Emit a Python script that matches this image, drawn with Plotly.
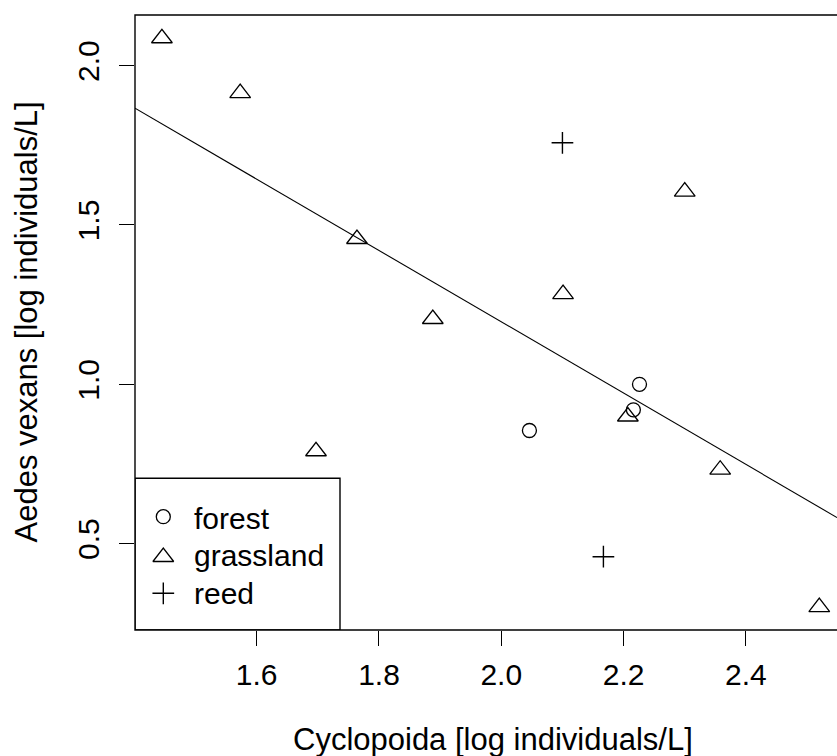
import numpy as np
import plotly.graph_objects as go

# Habitat groups: Cyclopoida (x) vs Aedes vexans (y), both log individuals/L
forest_x = [2.046, 2.226, 2.216]
forest_y = [0.855, 1.000, 0.920]

grassland_x = [1.445, 1.573, 1.764, 1.888, 1.697, 2.101, 2.300, 2.207, 2.358, 2.520]
grassland_y = [2.086, 1.914, 1.456, 1.205, 0.790, 1.283, 1.605, 0.899, 0.732, 0.301]

reed_x = [2.100, 2.167]
reed_y = [1.758, 0.459]

x_ticks = [1.6, 1.8, 2.0, 2.2, 2.4]
y_ticks = [0.5, 1.0, 1.5, 2.0]
x_range = [1.401, 2.549]
y_range = [0.229, 2.159]

x_title = "Cyclopoida [log individuals/L]"
y_title = "Aedes vexans [log individuals/L]"
legend_labels = ["forest", "grassland", "reed"]

FONT = "Arial, Liberation Sans, sans-serif"
INK = "black"
W, H = 837, 756
L, T, B = 135, 15, 126
plot_bottom = H - B

# Least-squares line through all sites
all_x = np.array(forest_x + grassland_x + reed_x)
all_y = np.array(forest_y + grassland_y + reed_y)
slope, intercept = np.polyfit(all_x, all_y, 1)
line_x = np.array(x_range)
line_y = intercept + slope * line_x

fig = go.Figure()

fig.add_trace(go.Scatter(
    x=line_x, y=line_y, mode="lines",
    line=dict(color=INK, width=1.1), showlegend=False, hoverinfo="skip"))

marker_styles = {
    "forest": dict(symbol="circle-open", size=14, color=INK, line=dict(width=1.3, color=INK)),
    "grassland": dict(symbol="triangle-up-open", size=18, color=INK, line=dict(width=1.3, color=INK)),
    "reed": dict(symbol="cross-thin-open", size=15.5, color=INK, line=dict(width=1.4, color=INK)),
}

for name, xs, ys in [("forest", forest_x, forest_y),
                     ("grassland", grassland_x, grassland_y),
                     ("reed", reed_x, reed_y)]:
    fig.add_trace(go.Scatter(x=xs, y=ys, mode="markers", name=name,
                             marker=marker_styles[name], showlegend=False, cliponaxis=False))

# Legend drawn on a pixel-scaled overlay axis pair
leg_sym_x = 163.3
leg_rows = [516.7, 557.0, 593.3]
for name, yy in zip(legend_labels, leg_rows):
    fig.add_trace(go.Scatter(x=[leg_sym_x], y=[yy], mode="markers", xaxis="x2", yaxis="y2",
                             marker=marker_styles[name], showlegend=False, hoverinfo="skip"))

annotations = []
text_rows = [518.0, 555.0, 593.0]
for name, yy in zip(legend_labels, text_rows):
    annotations.append(dict(x=192, y=yy, xref="x2", yref="y2", text=name, showarrow=False,
                            xanchor="left", yanchor="middle",
                            font=dict(family=FONT, size=30, color=INK)))

# Axis titles
annotations.append(dict(x=(493 - L) / (W - L), y=0, xref="paper", yref="paper",
                        text=x_title, showarrow=False, xanchor="center", yanchor="middle",
                        yshift=-(739 - plot_bottom),
                        font=dict(family=FONT, size=31, color=INK)))
annotations.append(dict(x=0, y=0.5, xref="paper", yref="paper",
                        text=y_title, showarrow=False, textangle=-90,
                        xanchor="center", yanchor="middle", xshift=-(L - 26),
                        font=dict(family=FONT, size=31, color=INK)))

shapes = [
    # plot frame (right side runs past the page edge)
    dict(type="rect", xref="paper", yref="paper", x0=0, x1=1.1, y0=0, y1=1,
         line=dict(color=INK, width=1.4), layer="above"),
    # legend frame
    dict(type="rect", xref="x2", yref="y2", x0=L, x1=340, y0=478.3, y1=plot_bottom,
         line=dict(color=INK, width=1.4), fillcolor="rgba(0,0,0,0)", layer="above"),
]

fig.update_layout(
    width=W, height=H,
    margin=dict(l=L, r=0, t=T, b=B, pad=0),
    paper_bgcolor="white", plot_bgcolor="white",
    showlegend=False,
    font=dict(family=FONT, size=30, color=INK),
    xaxis=dict(range=x_range, tickvals=x_ticks, ticktext=[f"{v:.1f}" for v in x_ticks],
               ticks="outside", ticklen=15, tickwidth=1.4, tickcolor=INK,
               ticklabelstandoff=3,
               showgrid=False, zeroline=False, showline=False,
               tickfont=dict(family=FONT, size=30, color=INK)),
    yaxis=dict(range=y_range, tickvals=y_ticks, ticktext=[f"{v:.1f}" for v in y_ticks],
               ticks="outside", ticklen=15, tickwidth=1.4, tickcolor=INK, tickangle=-90,
               ticklabelstandoff=8,
               showgrid=False, zeroline=False, showline=False,
               tickfont=dict(family=FONT, size=30, color=INK)),
    xaxis2=dict(range=[L, W], overlaying="x", visible=False, fixedrange=True),
    yaxis2=dict(range=[plot_bottom, T], overlaying="y", visible=False, fixedrange=True),
    annotations=annotations,
    shapes=shapes,
)

fig.write_html("out.html")
